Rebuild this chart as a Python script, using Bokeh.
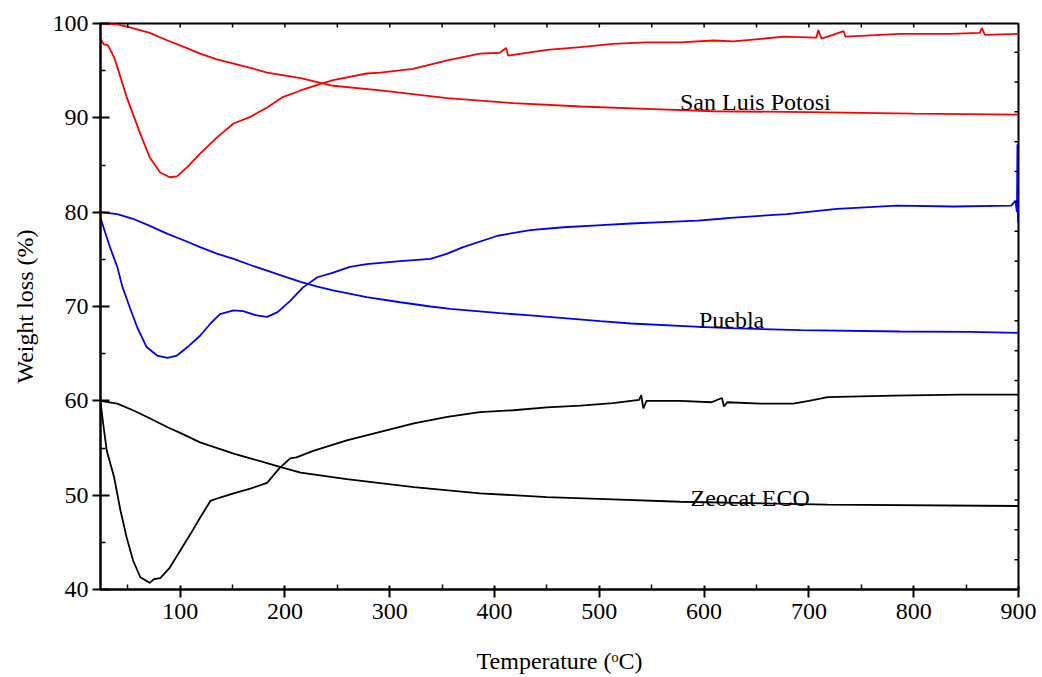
from bokeh.plotting import figure
from bokeh.models import Range1d, FixedTicker, Label
from bokeh.embed import file_html
from bokeh.resources import INLINE

# ---------------- data ----------------
# San Luis Potosi - TG curve
slp_tg_t = [24, 40, 52, 71, 88, 104, 119, 135, 151, 167, 183, 199, 215, 246, 291, 355,
            418, 482, 545, 609, 700, 800, 900]
slp_tg_v = [100.0, 99.9, 99.6, 99.0, 98.2, 97.5, 96.8, 96.2, 95.75, 95.3, 94.8, 94.5,
            94.2, 93.4, 92.9, 92.1, 91.55, 91.2, 90.95, 90.7, 90.6, 90.45, 90.35]
# San Luis Potosi - DTG curve
slp_dtg_t = [24, 27, 31, 37, 40, 49, 62, 71, 81, 90, 97, 107, 119, 135, 151, 167, 183,
             198, 215, 231, 246, 278, 291, 322, 355, 386, 405, 411, 413, 450, 482, 513,
             545, 577, 609, 628, 676, 707, 709, 712, 723, 733, 735, 787, 835, 863, 865,
             868, 900]
slp_dtg_v = [98.4, 97.8, 97.7, 96.4, 95.4, 92.2, 88.3, 85.8, 84.2, 83.7, 83.8, 84.8,
             86.2, 87.9, 89.4, 90.1, 91.1, 92.2, 92.9, 93.5, 94.0, 94.7, 94.8, 95.2,
             96.1, 96.8, 96.9, 97.4, 96.6, 97.2, 97.5, 97.85, 98.0, 98.0, 98.2, 98.1,
             98.6, 98.5, 99.3, 98.4, 98.8, 99.2, 98.6, 98.9, 98.9, 99.0, 99.5, 98.8, 98.9]

# Puebla - TG curve
pue_tg_t = [24, 40, 55, 70, 88, 104, 119, 135, 151, 167, 183, 199, 215, 231, 246, 278,
            310, 339, 358, 405, 434, 501, 530, 596, 625, 692, 787, 853, 900]
pue_tg_v = [80.0, 79.8, 79.3, 78.6, 77.7, 77.0, 76.3, 75.6, 75.05, 74.4, 73.8, 73.2,
            72.6, 72.1, 71.7, 71.0, 70.45, 70.0, 69.75, 69.3, 69.05, 68.45, 68.2, 67.85,
            67.7, 67.5, 67.35, 67.3, 67.2]
# Puebla - DTG curve
pue_dtg_t = [24, 28, 33, 40, 45, 52, 59, 68, 78, 88, 97, 107, 119, 129, 138, 151, 160,
             173, 183, 193, 205, 217, 231, 246, 262, 278, 310, 339, 355, 370, 403, 434,
             466, 498, 530, 561, 594, 616, 625, 679, 727, 784, 838, 893, 897, 898.5,
             899, 899.5, 900]
pue_dtg_v = [79.4, 78.0, 76.3, 74.2, 72.05, 69.9, 67.8, 65.7, 64.8, 64.55, 64.8, 65.7,
             66.9, 68.2, 69.2, 69.6, 69.5, 69.05, 68.9, 69.4, 70.6, 72.0, 73.1, 73.6,
             74.2, 74.5, 74.8, 75.05, 75.6, 76.3, 77.5, 78.1, 78.4, 78.6, 78.8, 78.95,
             79.1, 79.3, 79.4, 79.8, 80.35, 80.7, 80.6, 80.7, 81.2, 80.0, 87.2, 78.9, 80.8]

# Zeocat ECO - TG curve
zeo_tg_t = [24, 40, 55, 70, 88, 100, 119, 151, 183, 195, 215, 259, 323, 386, 450, 513,
            577, 718, 900]
zeo_tg_v = [60.0, 59.7, 59.0, 58.2, 57.2, 56.6, 55.6, 54.4, 53.4, 53.0, 52.4, 51.7,
            50.85, 50.2, 49.8, 49.55, 49.3, 49.0, 48.85]
# Zeocat ECO - DTG curve
zeo_dtg_t = [24, 27, 30, 37, 43, 49, 55, 62, 68, 71, 75, 81, 90, 100, 110, 119, 129,
             138, 151, 167, 183, 195, 205, 211, 227, 259, 291, 323, 355, 386, 418, 450,
             482, 513, 538, 540, 542, 545, 577, 607, 617, 619, 622, 654, 685, 700, 718,
             781, 845, 900]
zeo_dtg_v = [59.9, 57.2, 54.7, 51.9, 48.4, 45.5, 43.1, 41.3, 40.9, 40.7, 41.1, 41.2,
             42.3, 44.1, 45.9, 47.6, 49.4, 49.75, 50.2, 50.7, 51.3, 52.9, 53.9, 54.0,
             54.7, 55.8, 56.7, 57.6, 58.3, 58.8, 59.0, 59.3, 59.5, 59.75, 60.1, 60.6,
             59.2, 60.0, 60.0, 59.85, 60.3, 59.4, 59.85, 59.7, 59.7, 60.0, 60.4, 60.55,
             60.65, 60.65]

x_ticks = [100, 200, 300, 400, 500, 600, 700, 800, 900]
x_minor = [50, 150, 250, 350, 450, 550, 650, 750, 850]
y_ticks = [40, 50, 60, 70, 80, 90, 100]
y_minor = [45, 55, 65, 75, 85, 95]
right_ticks = list(range(0, 19))   # unlabeled evenly spaced right-hand scale

labels = ["San Luis Potosi", "Puebla", "Zeocat ECO"]

# ---------------- figure ----------------
FONT = "Liberation Serif"
X0, X1, Y0, Y1 = 24, 900, 40, 100
p = figure(width=1042, height=677, output_backend="svg", toolbar_location=None,
           x_range=Range1d(X0, X1), y_range=Range1d(Y0, Y1),
           min_border_left=100, min_border_right=24, min_border_top=23,
           min_border_bottom=88)
p.outline_line_color = "black"
p.outline_line_width = 2
p.xgrid.visible = False
p.ygrid.visible = False
p.background_fill_color = "white"
p.border_fill_color = "white"

RED, BLUE, BLACK = "#ff0000", "#0000ff", "#000000"
LW = 1.8
p.line(slp_tg_t, slp_tg_v, line_color=RED, line_width=LW)
p.line(slp_dtg_t, slp_dtg_v, line_color=RED, line_width=LW)
p.line(pue_tg_t, pue_tg_v, line_color=BLUE, line_width=LW)
p.line(pue_dtg_t, pue_dtg_v, line_color=BLUE, line_width=LW)
p.line(zeo_tg_t, zeo_tg_v, line_color=BLACK, line_width=LW)
p.line(zeo_dtg_t, zeo_dtg_v, line_color=BLACK, line_width=LW)

# bottom axis
xa = p.xaxis[0]
xa.ticker = FixedTicker(ticks=x_ticks, minor_ticks=x_minor)
xa.axis_label = "Temperature (\u1d52C)"
# left axis
ya = p.yaxis[0]
ya.ticker = FixedTicker(ticks=y_ticks, minor_ticks=y_minor)
ya.axis_label = "Weight loss (%)"

for ax in (xa, ya):
    ax.axis_line_width = 2
    ax.major_tick_line_width = 2
    ax.minor_tick_line_width = 1.5
    ax.major_label_text_font = FONT
    ax.major_label_text_font_size = "24px"
    ax.major_label_text_color = "black"
    ax.axis_label_text_font = FONT
    ax.axis_label_text_font_size = "24px"
    ax.axis_label_text_font_style = "normal"
    ax.axis_label_text_color = "black"
    ax.minor_tick_out = 0
    ax.minor_tick_in = 5
xa.major_tick_in = 4
xa.major_tick_out = 8
xa.major_label_standoff = 6
xa.axis_label_standoff = 26
ya.major_tick_in = 9
ya.major_tick_out = 8
ya.major_label_standoff = 4
ya.axis_label_standoff = 12

# top-edge tick marks (inside the frame), from the x tick lists
PX_PER_Y = 566 / (Y1 - Y0)
PX_PER_X = 918 / (X1 - X0)
top_x = x_ticks + x_minor
p.segment(x0=top_x, y0=[Y1] * len(top_x), x1=top_x, y1=[Y1 - 4 / PX_PER_Y] * len(top_x),
          line_color="black", line_width=1.5)

# right-edge tick marks on a separate unlabeled scale
p.extra_y_ranges = {"r": Range1d(0, 18.96)}
p.segment(x0=[X1] * len(right_ticks), y0=right_ticks,
          x1=[X1 - 4 / PX_PER_X] * len(right_ticks), y1=right_ticks,
          line_color="black", line_width=1.5, y_range_name="r")

# curve labels
lab_pos = [(577, 91.66), (595, 68.6), (587, 49.68)]
for txt, (lx, ly) in zip(labels, lab_pos):
    p.add_layout(Label(x=lx, y=ly, text=txt, text_font=FONT, text_font_size="24px",
                       text_color="black", text_align="left", text_baseline="alphabetic"))

open("out.html", "w").write(file_html(p, INLINE))
